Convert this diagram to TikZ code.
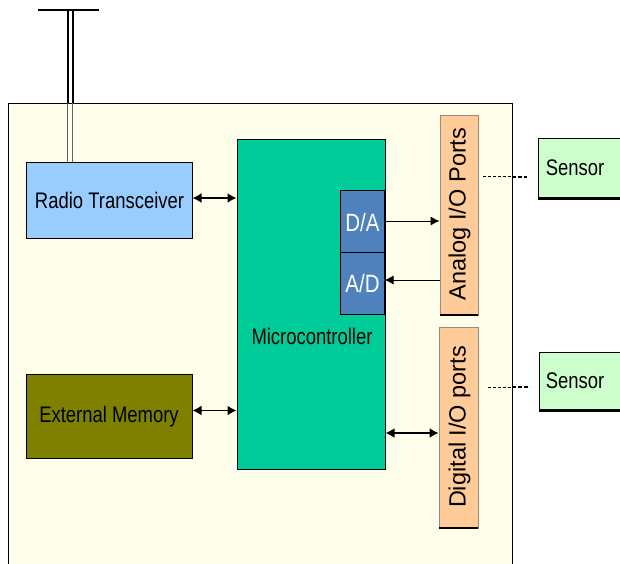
\documentclass[tikz,border=0pt]{standalone}
\usepackage{fontspec}
\setmainfont{Liberation Sans}[FakeStretch=0.82]
\newfontfamily\portfont{Liberation Sans}
\usetikzlibrary{arrows.meta}
\definecolor{boardcol}{HTML}{FFFEEA}
\definecolor{radiocol}{HTML}{99CCFF}
\definecolor{microcol}{HTML}{00CC99}
\definecolor{convcol}{HTML}{4F81BD}
\definecolor{portcol}{HTML}{FFCC99}
\definecolor{memcol}{HTML}{808000}
\definecolor{sensorcol}{HTML}{CCFFCC}
\definecolor{portedge}{HTML}{9A8A7A}
\tikzset{
  blk/.style={draw=black, line width=1pt, inner sep=0pt, rectangle},
  txt/.style={font=\fontsize{22.5}{26}\selectfont, inner sep=0pt},
  convtxt/.style={font=\fontsize{25}{28}\selectfont, text=white, inner sep=0pt},
  porttxt/.style={font=\portfont\fontsize{23.5}{26}\selectfont, rotate=90, inner sep=0pt},
  port/.style={draw=portedge, line width=0.8pt, fill=portcol, inner sep=0pt, rectangle},
  biarrow/.style={{Latex[length=9pt,width=10pt]}-{Latex[length=9pt,width=10pt]}, line width=1.7pt},
  onearrow/.style={-{Latex[length=9pt,width=9pt]}, line width=1pt},
  thindash/.style={dash pattern=on 3pt off 2pt, line width=0.8pt},
  thickdash/.style={dash pattern=on 4pt off 2pt, line width=2pt},
}
\begin{document}
\begin{tikzpicture}[x=1pt,y=-1pt]
\useasboundingbox (0,0) rectangle (620,563);
% board
\node[blk, fill=boardcol, minimum width=504pt, minimum height=480pt, anchor=north west] (board) at (8,103) {};
% antenna
\draw[line width=2pt] (38,9.5) -- (99,9.5);
\draw[line width=2pt] (67.5,9) -- (67.5,103);
\draw[line width=2pt] (72.5,9) -- (72.5,103);
\draw[line width=0.8pt, black!60] (67.5,103) -- (67.5,162);
\draw[line width=0.8pt, black!60] (72.5,103) -- (72.5,162);
% blocks
\node[blk, fill=radiocol, minimum width=166pt, minimum height=76pt] (radio) at (109,200) {};
\node[txt] (radiolbl) at (109.5,200) {Radio Transceiver};
\node[blk, fill=microcol, minimum width=148pt, minimum height=330pt] (micro) at (311,304) {};
\node[txt] (microlbl) at (312,336) {Microcontroller};
\node[blk, fill=convcol, minimum width=44pt, minimum height=62pt] (da) at (362,221) {};
\node[convtxt] (dalbl) at (362.5,222.5) {D/A};
\node[blk, fill=convcol, minimum width=44pt, minimum height=62pt] (ad) at (362,283) {};
\node[convtxt] (adlbl) at (362.5,284) {A/D};
\node[blk, fill=memcol, minimum width=166pt, minimum height=84pt] (mem) at (109,416) {};
\node[txt] (memlbl) at (109,416.5) {External Memory};
% ports
\node[port, minimum width=38pt, minimum height=200pt] (analog) at (459,215) {};
\draw[line width=2pt] (analog.south west) -- (analog.south east);
\node[porttxt] (analoglbl) at (459.5,214) {Analog I/O Ports};
\node[port, minimum width=39pt, minimum height=201pt] (digital) at (458.5,427.5) {};
\draw[line width=2pt] (digital.south west) -- (digital.south east);
\node[porttxt] (digitallbl) at (459.5,427) {Digital I/O ports};
% sensors
\node[blk, fill=sensorcol, minimum width=104pt, minimum height=60pt] (sensA) at (590,168) {};
\draw[line width=2.5pt] (sensA.south west) -- (sensA.south east);
\node[txt] (sensAlbl) at (575,168) {Sensor};
\node[blk, fill=sensorcol, minimum width=104pt, minimum height=58pt] (sensB) at (591,381) {};
\draw[line width=2.5pt] (sensB.south west) -- (sensB.south east);
\node[txt] (sensBlbl) at (575,381) {Sensor};
% connectors
\draw[biarrow] ([yshift=2pt]radio.east) -- ([yshift=2pt]radio.east -| micro.west);
\draw[biarrow] ([yshift=5.5pt]mem.east) -- ([yshift=5.5pt]mem.east -| micro.west);
\draw[onearrow] (da.east) -- (da.east -| analog.west);
\coordinate (adin) at ([yshift=3pt]ad.east);
\draw[onearrow] (adin -| analog.west) -- (adin);
\coordinate (digin) at ([yshift=-5.5pt]digital.west);
\draw[biarrow, line width=2pt] (digin -| micro.east) -- (digin);
% dashed links
\coordinate (dA1) at (512,176.5);
\coordinate (dA2) at (527,176.5);
\draw[thindash] ([xshift=5pt]analog.east |- dA1) -- (dA1);
\draw[thickdash] (dA1) -- (dA2);
\coordinate (dB1) at (512,387);
\coordinate (dB2) at (530,387);
\draw[thindash] ([xshift=10pt]digital.east |- dB1) -- (dB1);
\draw[thickdash] (dB1) -- (dB2);
\end{tikzpicture}
\end{document}
